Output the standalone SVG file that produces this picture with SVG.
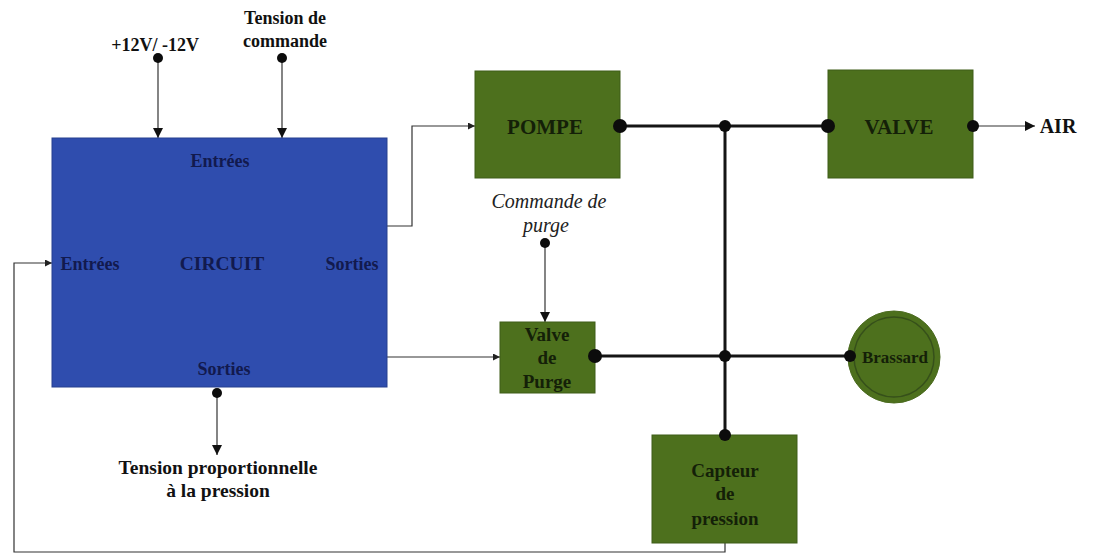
<svg xmlns="http://www.w3.org/2000/svg" width="1095" height="555" viewBox="0 0 1095 555">
  <style>
    .lbl { font-family: "Liberation Serif", "Times New Roman", serif; font-weight: bold; font-size: 17px; fill: #111; text-anchor: middle; }
    .ital { font-family: "Liberation Serif", "Times New Roman", serif; font-style: italic; font-size: 20px; fill: #222; text-anchor: middle; }
    .big { font-size: 21px; }
    .mid { font-size: 19px; }
    .blue-txt { fill: #121a4e; font-size: 18px; }
    .green-txt { fill: #142008; }
    .blue { fill: #2f4dae; stroke: #27408f; stroke-width: 1; }
    .green { fill: #4d701d; stroke: #3f5d18; stroke-width: 1; }
    .thin { fill: none; stroke: #333; stroke-width: 1.2; }
    .thick { fill: none; stroke: #151515; stroke-width: 3; }
    .dot { fill: #0c0c0c; }
  </style>
  <defs>
    <marker id="arr" viewBox="0 0 10 10" refX="10" refY="5" markerWidth="7" markerHeight="7" markerUnits="userSpaceOnUse" orient="auto">
      <path d="M0,0 L10,5 L0,10 z" fill="#222"/>
    </marker>
    <marker id="arrBig" viewBox="0 0 10 10" refX="10" refY="5" markerWidth="10" markerHeight="10" markerUnits="userSpaceOnUse" orient="auto">
      <path d="M0,0 L10,5 L0,10 z" fill="#111"/>
    </marker>
  </defs>

  <rect width="1095" height="555" fill="#ffffff"/>

  <!-- connectors -->
  <g id="connectors">
    <!-- supply and command inputs -->
    <line class="thin" x1="158" y1="58" x2="158" y2="138" marker-end="url(#arrBig)"/>
    <line class="thin" x1="282" y1="58" x2="282" y2="138" marker-end="url(#arrBig)"/>
    <!-- circuit to pump -->
    <polyline class="thin" points="387,226 412,226 412,126 475,126" marker-end="url(#arr)"/>
    <!-- circuit to purge valve -->
    <line class="thin" x1="387" y1="357" x2="500" y2="357" marker-end="url(#arr)"/>
    <!-- purge command -->
    <line class="thin" x1="545" y1="243" x2="545" y2="322" marker-end="url(#arrBig)"/>
    <!-- pressure output -->
    <line class="thin" x1="217" y1="393" x2="217" y2="455" marker-end="url(#arrBig)"/>
    <!-- air output -->
    <line class="thin" x1="973" y1="126" x2="1035" y2="126" marker-end="url(#arrBig)"/>
    <!-- feedback from sensor to circuit -->
    <polyline class="thin" points="725,543 725,552 14,552 14,263 52,263" marker-end="url(#arr)"/>
    <!-- pneumatic lines -->
    <line class="thick" x1="620" y1="126" x2="828" y2="126"/>
    <line class="thick" x1="595" y1="356" x2="850" y2="356"/>
    <line class="thick" x1="725" y1="126" x2="725" y2="435"/>
    <!-- junction dots -->
    <circle class="dot" cx="158" cy="58" r="5"/>
    <circle class="dot" cx="282" cy="58" r="5"/>
    <circle class="dot" cx="545" cy="243" r="5"/>
    <circle class="dot" cx="217" cy="393" r="5"/>
    <circle class="dot" cx="725" cy="126" r="6"/>
    <circle class="dot" cx="725" cy="356" r="6"/>
  </g>

  <!-- free labels -->
  <g id="labels">
    <text class="lbl" x="155" y="51" style="font-size:18px">+12V/ -12V</text>
    <text class="lbl" x="285" y="24" style="font-size:18px">Tension de</text>
    <text class="lbl" x="285" y="47" style="font-size:18px">commande</text>
    <text class="ital" x="549" y="208">Commande de</text>
    <text class="ital" x="546" y="232">purge</text>
    <text class="lbl" x="218" y="474" style="font-size:19.5px">Tension proportionnelle</text>
    <text class="lbl" x="218" y="497" style="font-size:19.5px">à la pression</text>
    <text class="lbl" x="1058" y="133" style="font-size:20px">AIR</text>
  </g>

  <g id="circuit">
    <rect class="blue" x="52" y="138" width="335" height="249"/>
    <text class="lbl blue-txt" x="220" y="167">Entrées</text>
    <text class="lbl blue-txt" x="90" y="270">Entrées</text>
    <text class="lbl blue-txt" x="222" y="270" style="font-size:19.5px">CIRCUIT</text>
    <text class="lbl blue-txt" x="352" y="270">Sorties</text>
    <text class="lbl blue-txt" x="224" y="375">Sorties</text>
  </g>

  <g id="pompe">
    <rect class="green" x="475" y="71" width="145" height="107"/>
    <text class="lbl big green-txt" x="545" y="134">POMPE</text>
    <circle class="dot" cx="620" cy="126" r="7"/>
  </g>

  <g id="valve">
    <rect class="green" x="828" y="70" width="145" height="108"/>
    <text class="lbl big green-txt" x="899" y="134">VALVE</text>
    <circle class="dot" cx="828" cy="126" r="7"/>
    <circle class="dot" cx="973" cy="126" r="6"/>
  </g>

  <g id="valve-purge">
    <rect class="green" x="500" y="322" width="95" height="71"/>
    <text class="lbl mid green-txt" x="547" y="341">Valve</text>
    <text class="lbl mid green-txt" x="547" y="364">de</text>
    <text class="lbl mid green-txt" x="547" y="388">Purge</text>
    <circle class="dot" cx="595" cy="356" r="7"/>
  </g>

  <g id="brassard">
    <circle cx="894" cy="357" r="46" fill="#4d701d" stroke="#4a6a1e" stroke-width="1"/>
    <circle cx="894" cy="357" r="40" fill="none" stroke="#36501a" stroke-width="1.5"/>
    <text class="lbl green-txt" x="895" y="363">Brassard</text>
    <circle class="dot" cx="850" cy="356" r="6"/>
  </g>

  <g id="capteur">
    <rect class="green" x="652" y="435" width="145" height="108"/>
    <text class="lbl mid green-txt" x="725" y="477">Capteur</text>
    <text class="lbl mid green-txt" x="725" y="500">de</text>
    <text class="lbl mid green-txt" x="725" y="525">pression</text>
    <circle class="dot" cx="725" cy="435" r="6"/>
  </g>
</svg>
